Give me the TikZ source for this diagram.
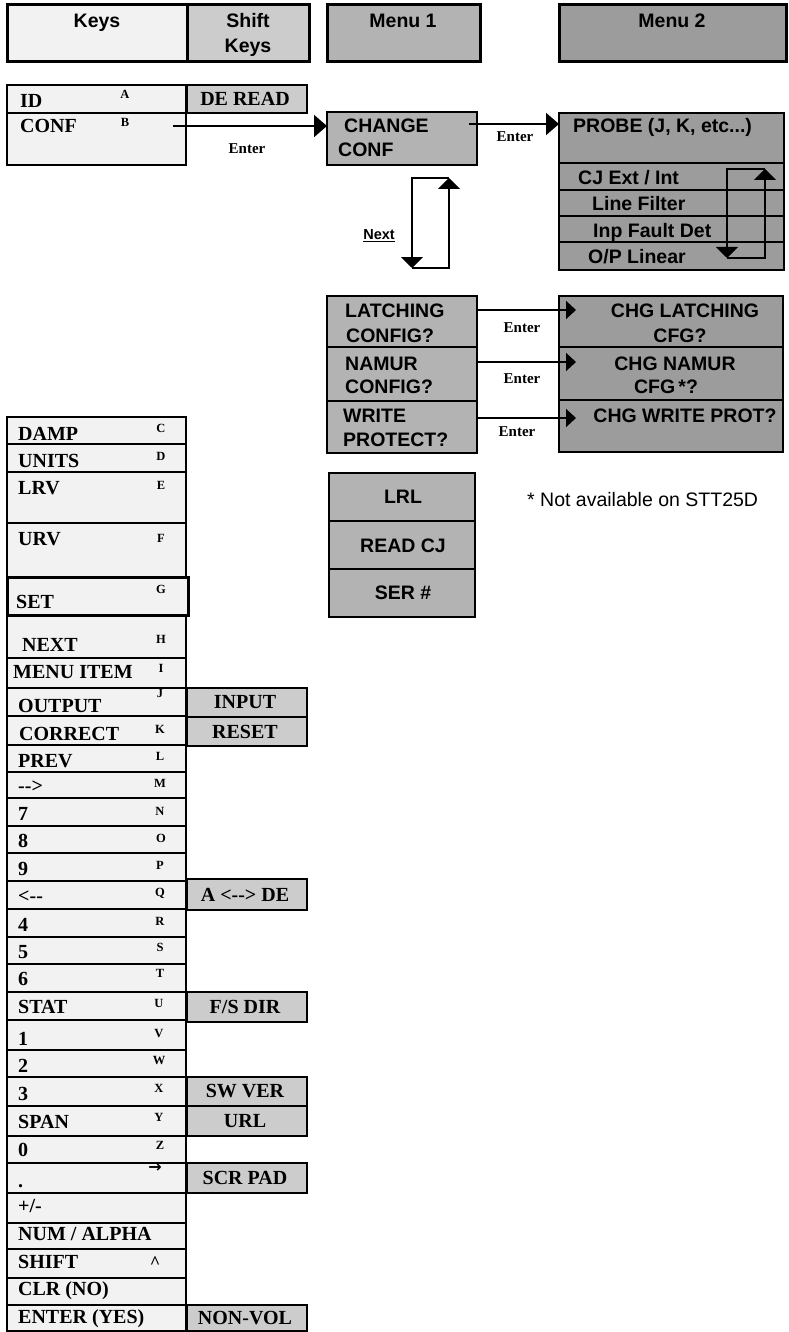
\documentclass[tikz,border=0pt]{standalone}
\usepackage{fontspec}
\setmainfont{Liberation Serif}
\newfontfamily\arialf{Liberation Sans}
\newfontfamily\dejavu{DejaVu Sans}
\usetikzlibrary{arrows.meta}
\definecolor{keyfill}{HTML}{F2F2F2}
\definecolor{shiftgray}{HTML}{CCCCCC}
\definecolor{mgrayA}{HTML}{B3B3B3}
\definecolor{mgrayB}{HTML}{9C9C9C}
\tikzset{
  base box/.style={draw, line width=1.5pt, inner sep=0pt, outer sep=0pt, anchor=north west},
  keybox/.style={base box, fill=keyfill},
  shbox/.style={base box, fill=shiftgray, font=\fontsize{20}{24}\selectfont\bfseries},
  mboxA/.style={base box, fill=mgrayA},
  mboxB/.style={base box, fill=mgrayB},
  hdr/.style={base box, line width=3pt},
  keytxt/.style={font=\fontsize{20}{24}\selectfont\bfseries, inner sep=0pt, anchor=base west},
  lettxt/.style={font=\fontsize{12.5}{14}\selectfont\bfseries, inner sep=0pt},
  mtxt/.style={font=\arialf\fontsize{19.5}{23}\selectfont\bfseries, inner sep=0pt},
  entxt/.style={font=\fontsize{15}{18}\selectfont\bfseries, inner sep=0pt},
  arr/.style={line width=2pt, -{Triangle[length=13pt,width=22pt]}},
  arrs/.style={line width=2pt, -{Triangle[length=10pt,width=18pt]}},
  looparr/.style={line width=2pt, -{Triangle[length=11pt,width=22pt]}},
}
% \bx{name}{style}{x1}{y1}{x2}{y2}
\newcommand\bx[6]{\node[#2, minimum width={(#5-#3)*1pt}, minimum height={(#6-#4)*1pt}] (#1) at (#3,#4) {};}
% \krow{name}{top}{bottom}{text}{textx}{baseline}{letter}{lx}{ly}
\newcommand\krow[9]{%
  \node[keybox, minimum width=179pt, minimum height={(#3-#2)*1pt}] (#1) at (7,#2) {};
  \node[keytxt] (#1-t) at (#5,#6) {#4};
  \node[lettxt] (#1-l) at (#8,#9) {#7};}
\newcommand\krowx[6]{%
  \node[keybox, minimum width=179pt, minimum height={(#3-#2)*1pt}] (#1) at (7,#2) {};
  \node[keytxt] (#1-t) at (#5,#6) {#4};}
% \shiftbox{name}{top}{bottom}{text}
\newcommand\shiftbox[4]{\node[shbox, minimum width=120pt, minimum height={(#3-#2)*1pt}] (#1) at (187,#2) {};
  \node[font=\fontsize{20}{24}\selectfont\bfseries, inner sep=0pt] (#1-t) at (245,{(#2+#3)/2}) {#4};}
\begin{document}
\begin{tikzpicture}[x=1pt,y=-1pt]
\useasboundingbox (0,0) rectangle (788,1332);

% ---------- headers ----------
\bx{hkeys}{hdr, fill=keyfill}{7}{5}{187}{62}
\bx{hshift}{hdr, fill=shiftgray}{187}{5}{309}{62}
\bx{hm1}{hdr, fill=mgrayA}{327}{5}{480}{62}
\bx{hm2}{hdr, fill=mgrayB}{559}{5}{786}{62}
\node[mtxt, anchor=base] (hkeys-t) at (97,28) {Keys};
\node[mtxt, anchor=base] (hshift-t1) at (248,28) {Shift};
\node[mtxt, anchor=base] (hshift-t2) at (248,53) {Keys};
\node[mtxt, anchor=base] (hm1-t) at (403,28) {Menu 1};
\node[mtxt, anchor=base] (hm2-t) at (672,28) {Menu 2};

% ---------- ID / CONF ----------
\krow{id}{85}{113}{ID}{20}{108}{A}{125}{94}
\krow{conf}{113}{165}{CONF}{20}{133}{B}{125}{122}
\shiftbox{deread}{85}{113}{DE READ}

% ---------- Menu 1 : change conf ----------
\bx{chg}{mboxA}{327}{112}{477}{165}
\node[mtxt, anchor=base west] (chg-t1) at (344,133) {CHANGE};
\node[mtxt, anchor=base west] (chg-t2) at (338,157) {CONF};

% ---------- Menu 2 : probe block ----------
\bx{probe}{mboxB}{559}{113}{784}{163}
\bx{cj}{mboxB}{559}{163}{784}{190}
\bx{lf}{mboxB}{559}{190}{784}{216}
\bx{ifd}{mboxB}{559}{216}{784}{242}
\bx{opl}{mboxB}{559}{242}{784}{270}
\node[mtxt, anchor=base west] (probe-t) at (573,133) {PROBE (J, K, etc...)};
\node[mtxt, anchor=base west] (cj-t) at (578,185) {CJ Ext / Int};
\node[mtxt, anchor=base west] (lf-t) at (592,211) {Line Filter};
\node[mtxt, anchor=base west] (ifd-t) at (593,237) {Inp Fault Det};
\node[mtxt, anchor=base west] (opl-t) at (588,263) {O/P Linear};

% ---------- Enter arrows (top) ----------
\coordinate (s1) at (173,126);
\draw[arr] (s1) -- (s1 -| chg.west);
\node[entxt] (en1) at (247,149) {Enter};
\coordinate (s2) at (469,124);
\draw[arr] (s2) -- (s2 -| probe.west);
\node[entxt] (en2) at (515,137) {Enter};

% ---------- loop arrows ----------
\coordinate (pa) at (765,169); \coordinate (pb) at (727,169);
\coordinate (pc) at (727,258); \coordinate (pd) at (765,258);
\draw[looparr] (pa) -- (pb) -- (pc);
\draw[looparr] (pc) -- (pd) -- (pa);
\coordinate (na) at (449,178); \coordinate (nb) at (412,178);
\coordinate (nc) at (412,268); \coordinate (nd) at (449,268);
\draw[looparr] (na) -- (nb) -- (nc);
\draw[looparr] (nc) -- (nd) -- (na);
\node[font=\arialf\fontsize{14.5}{17}\selectfont\bfseries, inner sep=0pt] (next) at (379,236) {\underline{Next}};

% ---------- Menu 1 : config questions ----------
\bx{lat}{mboxA}{327}{296}{477}{347}
\bx{nam}{mboxA}{327}{347}{477}{401}
\bx{wri}{mboxA}{327}{401}{477}{453}
\node[mtxt, anchor=base west] (lat-t1) at (345,317) {LATCHING};
\node[mtxt, anchor=base west] (lat-t2) at (346,342) {CONFIG?};
\node[mtxt, anchor=base west] (nam-t1) at (345,370) {NAMUR};
\node[mtxt, anchor=base west] (nam-t2) at (345,393) {CONFIG?};
\node[mtxt, anchor=base west] (wri-t1) at (343,422) {WRITE};
\node[mtxt, anchor=base west] (wri-t2) at (343,446) {PROTECT?};

\bx{clat}{mboxB}{559}{296}{783}{347}
\bx{cnam}{mboxB}{559}{347}{783}{400}
\bx{cwri}{mboxB}{559}{400}{783}{452}
\node[mtxt, anchor=base] (clat-t1) at (685,317) {CHG LATCHING};
\node[mtxt, anchor=base] (clat-t2) at (680,342) {CFG?};
\node[mtxt, anchor=base] (cnam-t1) at (675,370) {CHG NAMUR};
\node[mtxt, anchor=base] (cnam-t2) at (666,393) {CFG\,*?};
\node[mtxt, anchor=base] (cwri-t1) at (685,422) {CHG WRITE PROT?};

\coordinate (e1) at (576,310); \coordinate (e2) at (576,362); \coordinate (e3) at (576,418);
\draw[arrs] (lat.east |- e1) -- (e1);
\draw[arrs] (nam.east |- e2) -- (e2);
\draw[arrs] (wri.east |- e3) -- (e3);
\node[entxt] (en3) at (522,328) {Enter};
\node[entxt] (en4) at (522,379) {Enter};
\node[entxt] (en5) at (517,432) {Enter};

% ---------- LRL block ----------
\bx{lrl}{mboxA}{329}{473}{475}{521}
\bx{rcj}{mboxA}{329}{521}{475}{569}
\bx{ser}{mboxA}{329}{569}{475}{617}
\node[mtxt, anchor=base] (lrl-t) at (403,503) {LRL};
\node[mtxt, anchor=base] (rcj-t) at (403,552) {READ CJ};
\node[mtxt, anchor=base] (ser-t) at (403,599) {SER \#};
\node[font=\arialf\fontsize{19.5}{23}\selectfont, inner sep=0pt, anchor=base west] (note) at (527,506) {* Not available on STT25D};

% ---------- key column ----------
\krow{damp}{417}{444}{DAMP}{18}{440}{C}{161}{428}
\krow{units}{444}{472}{UNITS}{18}{467}{D}{161}{456}
\krow{lrv}{472}{523}{LRV}{18}{494}{E}{161}{485}
\krow{urv}{523}{577}{URV}{18}{545}{F}{161}{538}
\krow{next}{615}{658}{NEXT}{22}{651}{H}{161}{639}
\krow{menu}{658}{688}{MENU ITEM}{13}{678}{I}{161}{668}
\node[keybox, line width=3pt, minimum width=181pt, minimum height=38pt] (set) at (7,577) {};
\node[keytxt] (set-t) at (16,608) {SET};
\node[lettxt] (set-l) at (161,589) {G};
\krow{output}{688}{716}{OUTPUT}{18}{712}{J}{160}{693}
\krow{correct}{716}{745}{CORRECT}{19}{740}{K}{160}{729}
\krow{prev}{745}{772}{PREV}{18}{767}{L}{160}{756}
\krow{right}{772}{798}{{-}{-}>}{18}{792}{M}{160}{783}
\krow{k7}{798}{826}{7}{18}{820}{N}{160}{811}
\krow{k8}{826}{853}{8}{18}{847}{O}{161}{838}
\krow{k9}{853}{881}{9}{18}{875}{P}{160}{865}
\krow{left}{881}{909}{<{-}{-}}{18}{902}{Q}{160}{893}
\krow{k4}{909}{937}{4}{18}{931}{R}{160}{921}
\krow{k5}{937}{964}{5}{18}{958}{S}{160}{947}
\krow{k6}{964}{992}{6}{18}{985}{T}{160}{973}
\krow{stat}{992}{1020}{STAT}{18}{1013}{U}{159}{1003}
\krow{k1}{1020}{1050}{1}{18}{1045}{V}{159}{1033}
\krow{k2}{1050}{1077}{2}{18}{1072}{W}{159}{1060}
\krow{k3}{1077}{1106}{3}{18}{1100}{X}{159}{1088}
\krow{span}{1106}{1136}{SPAN}{18}{1128}{Y}{159}{1117}
\krow{k0}{1136}{1163}{0}{18}{1156}{Z}{160}{1145}
\krow{dot}{1163}{1193}{.}{18}{1187}{{\dejavu\fontsize{16}{17}\selectfont →}}{155}{1168}
\krowx{pm}{1193}{1223}{+/-}{18}{1212}
\krowx{num}{1223}{1249}{NUM / ALPHA}{18}{1240}
\krow{shift}{1249}{1278}{SHIFT}{18}{1268}{{\fontsize{18}{20}\selectfont\textasciicircum}}{155}{1263}
\krowx{clr}{1278}{1305}{CLR (NO)}{18}{1295}
\krowx{enter}{1305}{1331}{ENTER (YES)}{18}{1323}

% ---------- shift column ----------
\shiftbox{input}{688}{717}{INPUT}
\shiftbox{reset}{717}{746}{RESET}
\shiftbox{ade}{879}{910}{A <{-}{-}> DE}
\shiftbox{fsdir}{992}{1022}{F/S DIR}
\shiftbox{swver}{1077}{1106}{SW VER}
\shiftbox{url}{1106}{1136}{URL}
\shiftbox{scr}{1163}{1193}{SCR PAD}
\shiftbox{nonvol}{1305}{1331}{NON-VOL}
\end{tikzpicture}
\end{document}
